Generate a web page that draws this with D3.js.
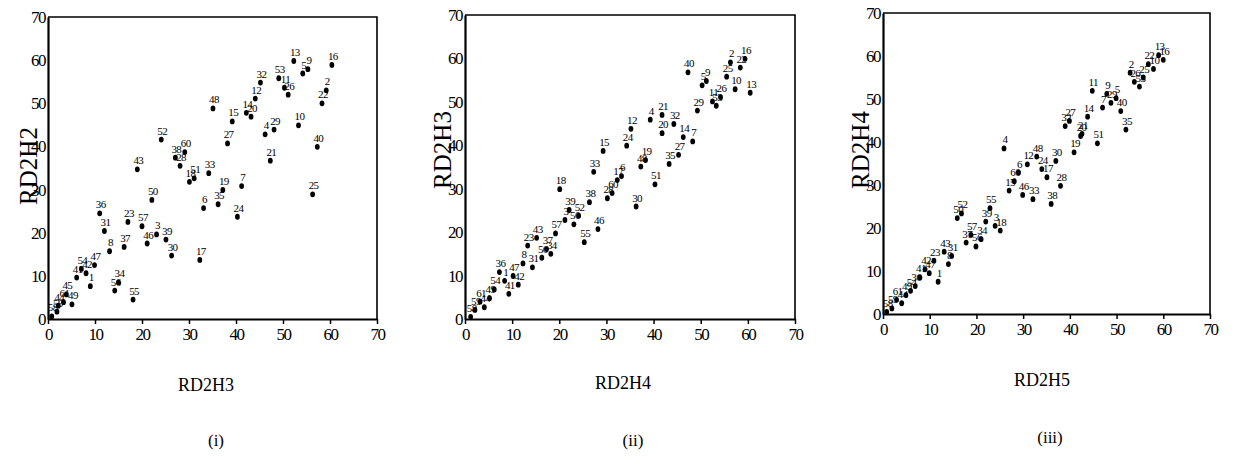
<!DOCTYPE html>
<html>
<head>
<meta charset="utf-8">
<script src="https://cdn.jsdelivr.net/npm/d3@7"></script>
<style>
  body { margin: 0; background: #fff; }
  svg, svg text { font-family: "Liberation Serif", "DejaVu Serif", serif; }
  .tick text { font-family: "Liberation Serif", serif; font-size: 17px; letter-spacing: -1.5px; fill: #000; }
  .ptlabel { font-size: 11px; letter-spacing: -0.6px; fill: #000; }
</style>
</head>
<body>
<div class="chart"></div>
<script>
/*global d3*/

const ticks = [0, 10, 20, 30, 40, 50, 60, 70];

// panel (i): RD2H3 (x) against RD2H2 (y)
const labels1 = [1, 2, 3, 4, 5, 6, 7, 8, 9, 10, 11, 12, 13, 14, 15, 16, 17, 18, 19, 20,
                 21, 22, 23, 24, 25, 26, 27, 28, 29, 30, 31, 32, 33, 34, 35, 36, 37, 38, 39, 40,
                 41, 42, 43, 44, 45, 46, 47, 48, 49, 50, 51, 52, 53, 54, 55, 56, 57, 58, 59, 60, 61];
const x1 = [9.0, 59.2, 23.1, 46.2, 54.2, 33.1, 41.2, 13.1, 55.3, 53.3, 50.3, 44.1, 52.3, 42.2, 39.2, 60.4, 32.3, 30.1, 37.2, 43.2,
            47.3, 58.3, 17.0, 40.3, 56.3, 51.1, 38.2, 28.1, 48.1, 26.3, 12.0, 45.2, 34.2, 15.0, 36.2, 11.0, 16.2, 27.1, 25.1, 57.3,
            6.1, 8.1, 19.0, 2.2, 3.9, 21.1, 9.9, 35.1, 5.1, 22.1, 31.1, 24.1, 49.1, 7.1, 18.1, 14.2, 20.0, 0.8, 1.9, 29.1, 3.3];
const y1 = [7.6, 53.0, 19.6, 42.8, 56.9, 25.7, 30.8, 15.7, 57.9, 44.9, 53.6, 51.1, 59.8, 47.8, 45.8, 58.9, 13.7, 31.8, 29.9, 46.9,
            36.7, 50.0, 22.5, 23.7, 28.9, 52.0, 40.7, 35.5, 43.9, 14.7, 20.4, 54.8, 33.8, 8.5, 26.6, 24.5, 16.7, 37.4, 18.4, 39.9,
            9.6, 10.6, 34.7, 3.1, 5.7, 17.5, 12.5, 48.8, 3.4, 27.6, 32.6, 41.6, 55.8, 11.6, 4.5, 6.6, 21.5, 0.6, 1.7, 38.7, 3.9];

// panel (ii): RD2H4 (x) against RD2H3 (y)
const labels2 = [58, 59, 61, 44, 49, 54, 36, 1, 41, 47, 42, 8, 23, 31, 43, 56, 37, 34, 57, 55,
                 46, 3, 39, 52, 50, 18, 33, 15, 38, 28, 60, 17, 6, 48, 19, 51, 30, 12, 24, 4,
                 21, 32, 20, 14, 7, 27, 35, 29, 40, 5, 9, 2, 22, 16, 25, 11, 53, 26, 10, 13];
const x2 = [1.2, 2.1, 3.2, 4.1, 5.2, 6.2, 7.3, 8.4, 9.3, 10.2, 11.3, 12.3, 13.3, 14.3, 15.2, 16.3, 17.3, 18.2, 19.2, 25.3,
            28.2, 21.2, 22.1, 24.1, 23.1, 20.1, 27.3, 29.3, 26.4, 30.2, 31.2, 32.3, 33.2, 37.3, 38.3, 40.3, 36.3, 35.2, 34.3, 39.3,
            41.8, 44.3, 41.8, 46.3, 48.3, 45.3, 43.3, 49.3, 47.3, 50.3, 51.2, 56.3, 58.4, 59.4, 55.5, 52.5, 53.3, 54.2, 57.3, 60.5];
const y2 = [0.5, 2.1, 4.0, 2.7, 4.8, 6.8, 10.8, 8.8, 5.8, 9.9, 7.9, 12.8, 16.9, 11.9, 18.7, 14.1, 16.1, 15.0, 19.7, 17.7,
            20.7, 22.8, 25.1, 23.8, 21.8, 29.9, 33.9, 38.7, 26.9, 27.8, 29.0, 32.0, 32.9, 35.1, 36.6, 31.0, 25.9, 43.8, 39.9, 45.9,
            47.0, 44.9, 42.8, 41.9, 40.9, 37.8, 35.7, 48.0, 56.8, 53.8, 54.8, 59.1, 57.9, 59.9, 55.8, 50.1, 49.1, 51.1, 52.9, 52.1];

// panel (iii): RD2H5 (x) against RD2H4 (y)
const labels3 = [58, 59, 61, 44, 49, 54, 36, 41, 42, 47, 23, 1, 43, 8, 31, 37, 57, 56, 34, 52,
                 50, 55, 39, 3, 18, 4, 12, 48, 24, 17, 30, 6, 60, 15, 46, 33, 28, 38, 19, 20,
                 21, 32, 27, 14, 51, 11, 7, 9, 29, 5, 40, 35, 2, 26, 53, 25, 22, 10, 13, 16];
const x3 = [0.8, 1.9, 2.9, 4.0, 4.9, 5.9, 6.9, 7.9, 9.0, 9.9, 10.9, 11.8, 13.1, 14.0, 14.7, 17.8, 18.8, 19.9, 21.0, 16.8,
            15.9, 22.9, 22.0, 24.0, 25.1, 25.9, 30.9, 32.9, 34.0, 35.1, 37.0, 29.0, 28.1, 27.0, 29.9, 32.1, 38.0, 36.0, 40.9, 42.3,
            42.6, 39.0, 39.9, 43.8, 45.9, 44.8, 47.0, 47.9, 48.8, 49.9, 50.9, 52.0, 52.9, 53.8, 54.9, 55.7, 56.8, 57.9, 59.0, 60.0];
const y3 = [0.5, 1.3, 3.3, 2.5, 4.4, 5.4, 6.5, 8.5, 10.4, 9.5, 12.4, 7.5, 14.5, 11.6, 13.5, 16.6, 18.4, 15.7, 17.4, 23.4,
            22.3, 24.6, 21.5, 20.5, 19.4, 38.5, 34.8, 36.6, 33.7, 31.8, 35.6, 32.9, 30.9, 28.7, 27.7, 26.7, 29.8, 25.6, 37.6, 41.4,
            41.9, 43.7, 44.9, 45.9, 39.7, 51.9, 48.0, 51.2, 49.1, 50.2, 47.2, 42.9, 56.1, 54.0, 52.9, 55.0, 58.1, 57.0, 60.2, 59.1];

const panels = [
    {labels: labels1, xs: x1, ys: y1, xTitle: "RD2H3", yTitle: "RD2H2", caption: "(i)",
     left: 48, right: 377, top: 17, bottom: 319, yTitleX: 28, yTitleY: 166, xTitleX: 206, xTitleY: 391, capX: 216, capY: 446},
    {labels: labels2, xs: x2, ys: y2, xTitle: "RD2H4", yTitle: "RD2H3", caption: "(ii)",
     left: 465, right: 795, top: 15, bottom: 319, yTitleX: 442, yTitleY: 150, xTitleX: 623, xTitleY: 389, capX: 633, capY: 446},
    {labels: labels3, xs: x3, ys: y3, xTitle: "RD2H5", yTitle: "RD2H4", caption: "(iii)",
     left: 883, right: 1210, top: 13, bottom: 314, yTitleX: 860, yTitleY: 150, xTitleX: 1042, xTitleY: 386, capX: 1050, capY: 443}
];

const svg = d3.select(".chart").append("svg")
    .attr("width", 1236)
    .attr("height", 456);

panels.forEach(p => {
    const x = d3.scaleLinear().domain([0, 70]).range([p.left, p.right]);
    const y = d3.scaleLinear().domain([0, 70]).range([p.bottom, p.top]);

    const g = svg.append("g");

    // frame: top and right edges
    g.append("path")
        .attr("d", `M${p.left},${p.top}H${p.right}V${p.bottom}`)
        .attr("fill", "none")
        .attr("stroke", "#000")
        .attr("stroke-width", 1.6);

    const xAxis = g.append("g")
        .attr("transform", "translate(0," + p.bottom + ")")
        .call(d3.axisBottom(x).tickValues(ticks).tickSize(5).tickSizeOuter(0).tickPadding(4));

    const yAxis = g.append("g")
        .attr("transform", "translate(" + p.left + ",0)")
        .call(d3.axisLeft(y).tickValues(ticks).tickSize(0).tickPadding(3));

    [xAxis, yAxis].forEach(a => {
        a.attr("font-family", null);
        a.select(".domain").attr("stroke-width", 2.2);
        a.selectAll(".tick line").attr("stroke-width", 1.5);
    });

    const pts = d3.range(p.labels.length).map(i => ({id: p.labels[i], x: p.xs[i], y: p.ys[i]}));

    g.append("g")
        .selectAll("ellipse")
        .data(pts)
        .enter().append("ellipse")
        .attr("cx", d => x(d.x))
        .attr("cy", d => y(d.y))
        .attr("rx", 2.4)
        .attr("ry", 2.9)
        .attr("fill", "#000");

    g.append("g")
        .selectAll("text")
        .data(pts)
        .enter().append("text")
        .attr("class", "ptlabel")
        .attr("x", d => x(d.x) + 1)
        .attr("y", d => y(d.y) - 5)
        .attr("text-anchor", "middle")
        .text(d => d.id);

    g.append("text")
        .attr("transform", "translate(" + p.yTitleX + "," + p.yTitleY + ") rotate(-90)")
        .attr("text-anchor", "middle")
        .attr("dy", "0.35em")
        .style("font-size", "25px")
        .text(p.yTitle);

    g.append("text")
        .attr("x", p.xTitleX)
        .attr("y", p.xTitleY)
        .attr("text-anchor", "middle")
        .style("font-size", "18px")
        .text(p.xTitle);

    g.append("text")
        .attr("x", p.capX)
        .attr("y", p.capY)
        .attr("text-anchor", "middle")
        .style("font-size", "17px")
        .text(p.caption);
});
</script>
</body>
</html>
